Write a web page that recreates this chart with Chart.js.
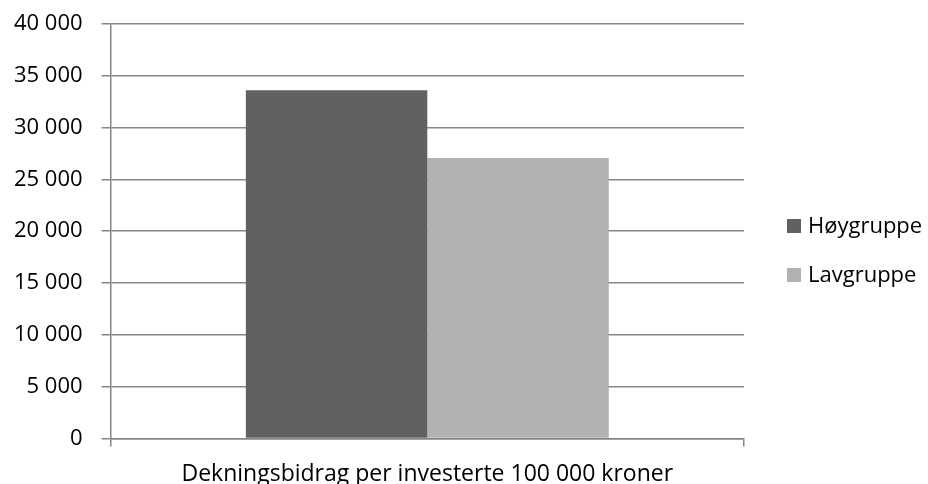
<!DOCTYPE html>
<html>
<head>
<meta charset="utf-8">
<script src="https://cdn.jsdelivr.net/npm/chart.js@4/dist/chart.umd.min.js"></script>
<style>
  html, body { margin: 0; padding: 0; background: #fff; overflow: hidden; }
  #wrap { width: 928px; height: 484px; }
</style>
</head>
<body>
<div id="wrap"><canvas id="chart"></canvas></div>
<script>
var categories = ["Dekningsbidrag per investerte 100 000 kroner"];
var hoygruppe = [33600];
var lavgruppe = [27070];
var yMin = 0, yMax = 40000, yStep = 5000;

var fontFamily = "'Open Sans', 'Liberation Sans', sans-serif";
var fontSize = 22;

// legend on the right, drawn next to the plot like the original
var sideLegend = {
    id: "sideLegend",
    afterDraw: function (chart) {
        var ctx = chart.ctx;
        var x = chart.chartArea.right + 43;
        var y = 226;
        ctx.save();
        ctx.font = fontSize + "px " + fontFamily;
        ctx.textBaseline = "middle";
        ctx.textAlign = "left";
        chart.data.datasets.forEach(function (ds, i) {
            var cy = y + i * 49;
            ctx.fillStyle = ds.backgroundColor;
            ctx.fillRect(x, cy - 7, 14, 14);
            ctx.fillStyle = "#000";
            ctx.fillText(ds.label, x + 21, cy + 1);
        });
        ctx.restore();
    }
};

new Chart(document.querySelector("#chart"), {
    type: "bar",
    data: {
        labels: categories,
        datasets: [{
            label: "Høygruppe",
            data: hoygruppe,
            backgroundColor: "#616161"
        }, {
            label: "Lavgruppe",
            data: lavgruppe,
            backgroundColor: "#b2b2b2"
        }]
    },
    options: {
        responsive: true,
        maintainAspectRatio: false,
        animation: false,
        layout: {
            padding: { top: 24, left: -5, right: 184, bottom: -18 }
        },
        datasets: {
            bar: { barPercentage: 1, categoryPercentage: 0.573 }
        },
        plugins: {
            tooltip: { enabled: false },
            legend: { display: false }
        },
        scales: {
            x: {
                grid: {
                    drawOnChartArea: false,
                    drawTicks: true,
                    tickLength: 8,
                    color: "#868686",
                    lineWidth: 1.5,
                    offset: true
                },
                border: { color: "#868686", width: 1.5 },
                ticks: {
                    color: "#000",
                    padding: 14,
                    font: { family: fontFamily, size: 23 }
                }
            },
            y: {
                min: yMin,
                max: yMax,
                afterFit: function (scale) {
                    scale.paddingTop = 0;
                    scale.paddingBottom = 0;
                },
                grid: {
                    color: "#868686",
                    lineWidth: 1.5,
                    tickLength: 9
                },
                border: { color: "#868686", width: 1.5 },
                ticks: {
                    stepSize: yStep,
                    color: "#000",
                    padding: 19,
                    font: { family: fontFamily, size: fontSize },
                    callback: function (v) {
                        return String(v).replace(/\B(?=(\d{3})+(?!\d))/g, " ");
                    }
                }
            }
        }
    },
    plugins: [sideLegend]
});
</script>
</body>
</html>
